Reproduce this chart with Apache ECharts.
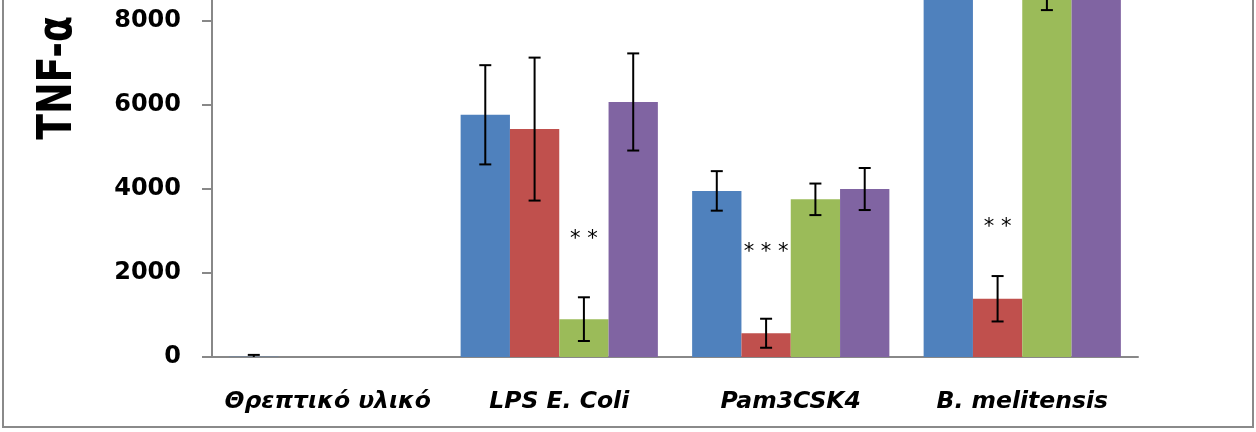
<!DOCTYPE html>
<html><head><meta charset="utf-8">
<script src="https://cdn.jsdelivr.net/npm/echarts@6/dist/echarts.min.js"></script>
<style>html,body{margin:0;padding:0;background:#fff}#c{width:1256px;height:432px}</style>
</head><body><div id="c"></div>
<script>
const categories = ['Θρεπτικό υλικό', 'LPS E. Coli', 'Pam3CSK4', 'B. melitensis'];
const seriesNames = ['Σειρά 1', 'Σειρά 2', 'Σειρά 3', 'Σειρά 4'];
const s1 = [5, 5760, 3950, 9500];
const s1err = [45, 1180, 470, 600];
const s2 = [0, 5420, 565, 1385];
const s2err = [0, 1700, 345, 540];
const s3 = [0, 900, 3750, 8900];
const s3err = [0, 520, 375, 650];
const s4 = [0, 6065, 3995, 9600];
const s4err = [0, 1155, 500, 600];
const yTickLabels = ['0', '2000', '4000', '6000', '8000'];
const sigCategory = ['LPS E. Coli', 'Pam3CSK4', 'B. melitensis'];
const sigSeries = [2, 1, 1];
const sigText = ['* *', '* * *', '* *'];
const sigValue = [2920, 2610, 3190];

const colors = ['#4F81BD', '#C0504D', '#9BBB59', '#8064A2'];
const GAP = 0.148;
const values = [s1, s2, s3, s4];
const errs = [s1err, s2err, s3err, s4err];

const chart = echarts.init(document.getElementById('c'));

function barOffset(api, idx) {
  const catW = api.size([1, 0])[0];
  const bw = catW * (1 - GAP) / 4;
  return (idx - 1.5) * bw;
}

const series = [];
values.forEach((vals, idx) => {
  series.push({
    type: 'bar', name: seriesNames[idx], data: vals,
    barGap: '0%', barCategoryGap: (GAP * 100) + '%',
    itemStyle: { color: colors[idx] }, silent: true
  });
});
values.forEach((vals, idx) => {
  const data = [];
  vals.forEach((v, i) => { if (errs[idx][i] > 0) data.push([i, v, errs[idx][i]]); });
  series.push({
    type: 'custom', name: seriesNames[idx] + ' err', silent: true, z: 10,
    data: data,
    renderItem(params, api) {
      const c = api.value(0), v = api.value(1), e = api.value(2);
      const x = api.coord([c, v])[0] + barOffset(api, idx);
      const lo = Math.max(v - e, 0);
      const yT = api.coord([c, v + e])[1];
      const yB = api.coord([c, lo])[1];
      const hw = 6;
      const st = { stroke: '#000', lineWidth: 2 };
      const ch = [
        { type: 'line', shape: { x1: x, y1: yT, x2: x, y2: yB }, style: st },
        { type: 'line', shape: { x1: x - hw, y1: yT, x2: x + hw, y2: yT }, style: st }
      ];
      if (v - e >= 0) ch.push({ type: 'line', shape: { x1: x - hw, y1: yB, x2: x + hw, y2: yB }, style: st });
      return { type: 'group', children: ch };
    }
  });
});
series.push({
  type: 'custom', name: 'sig', silent: true, z: 11,
  data: sigCategory.map((c, i) => [categories.indexOf(c), sigValue[i], sigSeries[i], i]),
  renderItem(params, api) {
    const c = api.value(0), v = api.value(1), s = api.value(2), k = api.value(3);
    const p = api.coord([c, v]);
    return { type: 'text', x: p[0] + barOffset(api, s), y: p[1] + 5,
      style: { text: sigText[k], fill: '#000', font: '21px "DejaVu Sans"', align: 'center', verticalAlign: 'middle' } };
  }
});

chart.setOption({
  animation: false,
  grid: { left: 212, right: 118, top: 0, bottom: 75, containLabel: false },
  xAxis: {
    type: 'category', data: categories,
    axisLine: { lineStyle: { color: '#888', width: 2 } },
    axisTick: { show: false },
    axisLabel: { interval: 0, color: '#000', fontFamily: 'DejaVu Sans', fontWeight: 'bold', fontStyle: 'italic', fontSize: 23.5, margin: 33 }
  },
  yAxis: {
    type: 'value', min: 0, max: 8490, interval: 2000,
    axisLine: { show: true, lineStyle: { color: '#888', width: 2 } },
    axisTick: { show: true, length: 10, lineStyle: { color: '#888', width: 2 } },
    splitLine: { show: false },
    axisLabel: { color: '#000', fontFamily: 'DejaVu Sans', fontWeight: 'bold', fontSize: 24, margin: 31, showMaxLabel: false,
      formatter: (v) => { const i = Math.round(v / 2000); return (v % 2000 === 0 && yTickLabels[i] !== undefined) ? yTickLabels[i] : ''; } }
  },
  graphic: [
    { type: 'rect', shape: { x: 3, y: -5, width: 1250, height: 432 }, style: { fill: 'none', stroke: '#8a8a8a', lineWidth: 2 }, z: 100 },
    { type: 'text', x: 58, y: 78, rotation: Math.PI / 2, scaleX: 0.9, scaleY: 1.15,
      style: { text: 'TNF-α', font: 'bold 42px "DejaVu Sans"', fill: '#000', align: 'center', verticalAlign: 'middle' } }
  ],
  series: series
});
</script></body></html>
